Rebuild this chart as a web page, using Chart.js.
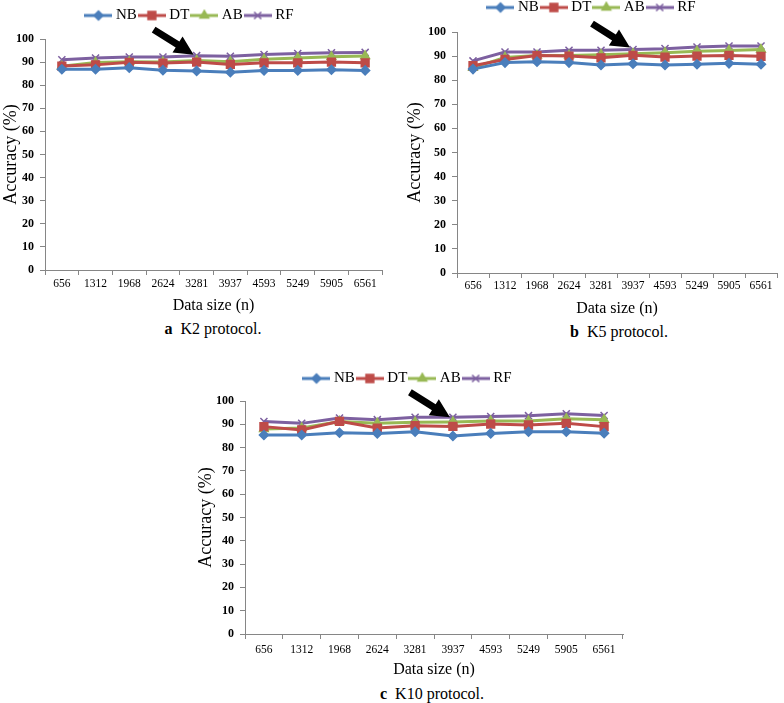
<!DOCTYPE html>
<html>
<head>
<meta charset="utf-8">
<script src="https://cdn.jsdelivr.net/npm/chart.js@4/dist/chart.umd.min.js"></script>
<style>
  body { margin: 0; background: #fff; width: 784px; height: 703px; position: relative; overflow: hidden; font-family: "Liberation Serif", serif; }
  .box { position: absolute; }
  .cap { position: absolute; font-size: 16px; text-align: center; width: 200px; color: #000; white-space: pre; }
</style>
</head>
<body>
<div class="box" id="boxA" style="left:0;top:0;width:392px;height:318px"><canvas id="chartA"></canvas></div>
<div class="box" id="boxB" style="left:392px;top:-8px;width:392px;height:327px"><canvas id="chartB"></canvas></div>
<div class="box" id="boxC" style="left:190px;top:363px;width:450px;height:319px"><canvas id="chartC"></canvas></div>
<div class="cap" style="left:113px;top:320px"><b>a</b>  K2 protocol.</div>
<div class="cap" style="left:519px;top:323px"><b>b</b>  K5 protocol.</div>
<div class="cap" style="left:332px;top:685px"><b>c</b>  K10 protocol.</div>
<script>
// ข้อมูล: ขนาดข้อมูล (แกน x)
var sizes = ["656", "1312", "1968", "2624", "3281", "3937", "4593", "5249", "5905", "6561"];
var seriesNames = ["NB", "DT", "AB", "RF"];
var yMin = 0, yMax = 100, yStep = 10;

// K2 protocol
var k2NB = [86.9, 86.9, 87.6, 86.5, 86.2, 85.6, 86.4, 86.4, 86.7, 86.4];
var k2DT = [88.3, 88.8, 89.9, 89.6, 90.0, 89.0, 89.7, 89.7, 90.0, 89.7];
var k2AB = [88.2, 89.8, 90.1, 90.0, 90.7, 90.1, 91.2, 91.8, 92.3, 92.6];
var k2RF = [91.0, 91.8, 92.2, 92.2, 92.8, 92.5, 93.3, 93.7, 94.0, 94.2];

// K5 protocol
var k5NB = [84.6, 87.3, 87.7, 87.3, 86.3, 86.8, 86.3, 86.6, 87.0, 86.6];
var k5DT = [86.0, 88.6, 90.2, 90.0, 89.3, 90.3, 89.6, 90.0, 90.3, 89.9];
var k5AB = [85.2, 89.4, 90.3, 90.3, 90.6, 91.0, 91.4, 92.0, 92.3, 92.7];
var k5RF = [88.0, 91.7, 91.7, 92.4, 92.4, 92.7, 93.1, 93.8, 94.2, 94.2];

// K10 protocol
var k10NB = [85.4, 85.4, 86.4, 86.1, 86.8, 85.0, 86.1, 86.8, 86.8, 86.2];
var k10DT = [89.0, 87.6, 91.3, 88.4, 89.4, 89.1, 90.1, 89.7, 90.4, 89.0];
var k10AB = [88.0, 88.4, 91.2, 90.4, 90.9, 91.0, 91.4, 91.4, 92.4, 92.0];
var k10RF = [91.2, 90.4, 92.7, 92.0, 93.0, 93.0, 93.3, 93.7, 94.5, 93.8];

// สไตล์ของแต่ละเส้น
var colors = ["#4A7EBB", "#BE4B48", "#98B954", "#7D60A0"];
var markers = ["rectRot", "rect", "triangle", "crossRot"];
var radii = [4.5, 5.5, 5, 5];

Chart.defaults.font.family = "'Liberation Serif', 'Times New Roman', serif";
Chart.defaults.color = "#000";

// ไอคอน legend: เส้น + marker (กว้างกว่ากล่องเล็กน้อยให้เส้นชิดข้อความ)
function legendIcon(i) {
    var c = document.createElement("canvas");
    c.width = 28; c.height = 14;
    var g = c.getContext("2d");
    g.strokeStyle = colors[i];
    g.lineWidth = 3;
    g.beginPath(); g.moveTo(0, 7); g.lineTo(28, 7); g.stroke();
    g.fillStyle = colors[i];
    g.lineWidth = 1.5;
    Chart.helpers.drawPoint(g, { pointStyle: markers[i], radius: radii[i], borderWidth: 1.5, rotation: 0 }, 14, 7);
    return c;
}

// เพิ่มช่องว่างใต้ legend
function legendGap(gap) {
    return {
        id: "legendGap",
        beforeInit: function (chart) {
            var fit = chart.legend.fit;
            chart.legend.fit = function () {
                fit.bind(chart.legend)();
                this.height += gap;
            };
        }
    };
}

// ลูกศรสีดำชี้ไปที่เส้น RF
var arrowPlugin = {
    id: "arrow",
    afterDatasetsDraw: function (chart, args, opts) {
        var p = chart.getDatasetMeta(3).data[opts.at];
        var px = p.x + opts.dx, py = p.y + opts.dy;
        var sx = px + opts.tx, sy = py + opts.ty;
        var len = Math.hypot(px - sx, py - sy);
        var ux = (px - sx) / len, uy = (py - sy) / len, nx = -uy, ny = ux;
        var sw = 3.5, hw = 9.5, hl = 19;
        var bx = px - ux * hl, by = py - uy * hl;
        var ctx = chart.ctx;
        ctx.save();
        ctx.fillStyle = "#000";
        ctx.beginPath();
        ctx.moveTo(sx + nx * sw, sy + ny * sw);
        ctx.lineTo(bx + nx * sw, by + ny * sw);
        ctx.lineTo(bx + nx * hw, by + ny * hw);
        ctx.lineTo(px, py);
        ctx.lineTo(bx - nx * hw, by - ny * hw);
        ctx.lineTo(bx - nx * sw, by - ny * sw);
        ctx.lineTo(sx - nx * sw, sy - ny * sw);
        ctx.closePath();
        ctx.fill();
        ctx.restore();
    }
};

function makeChart(id, values, pad, gap, yWidth, xPad, arrow) {
    var ctx = document.getElementById(id).getContext("2d");
    return new Chart(ctx, {
        type: "line",
        data: {
            labels: sizes,
            datasets: values.map(function (v, i) {
                return {
                    label: seriesNames[i],
                    data: v,
                    borderColor: colors[i],
                    backgroundColor: colors[i],
                    borderWidth: 3,
                    pointStyle: markers[i],
                    pointRadius: radii[i],
                    pointBackgroundColor: colors[i],
                    pointBorderColor: colors[i],
                    pointBorderWidth: 1.5,
                    tension: 0
                };
            })
        },
        options: {
            responsive: true,
            maintainAspectRatio: false,
            animation: false,
            events: [],
            layout: { padding: pad },
            plugins: {
                arrow: arrow,
                tooltip: { enabled: false },
                legend: {
                    position: "top",
                    labels: {
                        usePointStyle: true,
                        pointStyleWidth: 20,
                        boxHeight: 14,
                        padding: 5,
                        font: { size: 15 },
                        generateLabels: function (chart) {
                            return chart.data.datasets.map(function (d, i) {
                                return {
                                    text: d.label,
                                    pointStyle: legendIcon(i),
                                    fillStyle: colors[i],
                                    strokeStyle: colors[i],
                                    lineWidth: 0,
                                    hidden: false,
                                    datasetIndex: i
                                };
                            });
                        }
                    }
                }
            },
            scales: {
                x: {
                    type: "category",
                    offset: true,
                    grid: { offset: true, drawOnChartArea: false, drawTicks: true, tickLength: 5, color: "#868686" },
                    border: { color: "#868686" },
                    ticks: { font: { size: 11.5 }, padding: xPad, maxRotation: 0, autoSkip: false },
                    title: { display: true, text: "Data size (n)", font: { size: 16 }, padding: 0 },
                    afterFit: function (s) { s.height = 45; }
                },
                y: {
                    min: yMin,
                    max: yMax,
                    grid: { drawOnChartArea: false, drawTicks: true, tickLength: 5, color: "#868686" },
                    border: { color: "#868686" },
                    ticks: { stepSize: yStep, font: { size: 12, weight: "bold" }, padding: 6 },
                    title: { display: true, text: "Accuracy (%)", font: { size: 18 }, padding: 0 },
                    afterFit: function (s) { s.width = yWidth; }
                }
            }
        },
        plugins: [arrowPlugin, legendGap(gap)]
    });
}

document.addEventListener("DOMContentLoaded", function () {
    makeChart("chartA", [k2NB, k2DT, k2AB, k2RF], { left: 0, right: 10, top: 3, bottom: 3 }, 6, 45, 2,
        { at: 4, dx: -3, dy: -1, tx: -40, ty: -25 });
    makeChart("chartB", [k5NB, k5DT, k5AB, k5RF], { left: 12, right: 2, top: 3, bottom: 1 }, 7, 53, 1,
        { at: 5, dx: -3, dy: -2, tx: -38, ty: -24 });
    makeChart("chartC", [k10NB, k10DT, k10AB, k10RF], { left: 5, right: 17, top: 3, bottom: 3 }, 5, 50, 4,
        { at: 5, dx: -3, dy: 0, tx: -40, ty: -25 });
});
</script>
</body>
</html>
